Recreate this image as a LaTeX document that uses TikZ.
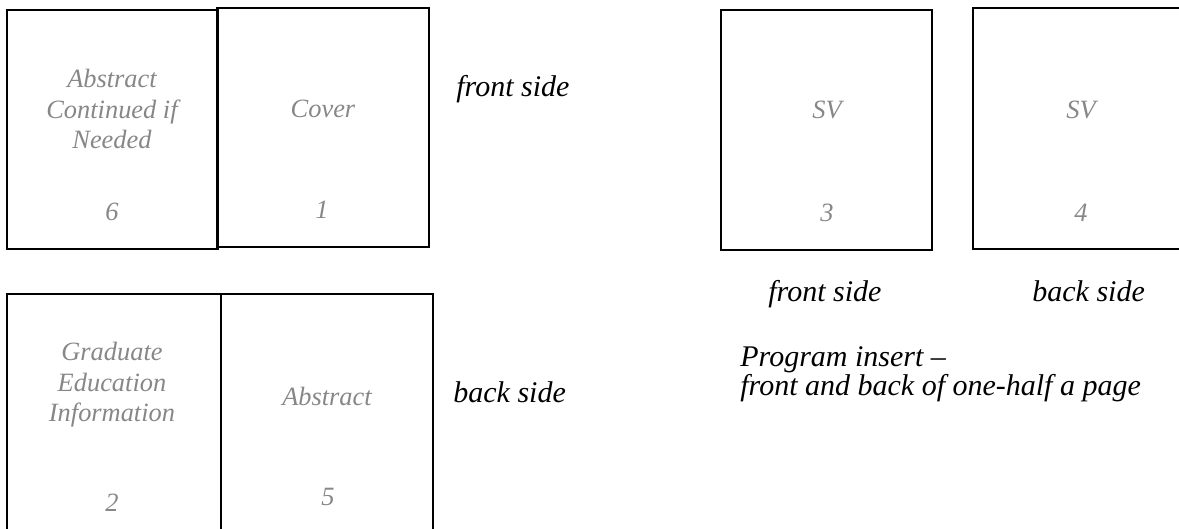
\documentclass[tikz,border=0pt]{standalone}
\usepackage{fontspec}
\setmainfont{Liberation Serif}
\usepackage{tikz}

\begin{document}
\begin{tikzpicture}[x=0.5pt,y=-0.5pt]
					\tikzstyle{every node}=[font=\fontsize{13.2}{15.2}\selectfont\itshape]
					\tikzstyle{page}=[draw,line width=1.1pt,rectangle,inner sep=0pt]
					\tikzstyle{title}=[text=black!47,align=center]
					\tikzstyle{side}=[text=black,anchor=base west,inner sep=0pt,font=\fontsize{15}{12.5}\selectfont\itshape]
					
					\useasboundingbox (0,0) rectangle (1179,529);
					\clip (0,0) rectangle (1179,529);
					
					% booklet, front
					\node[page,minimum width=105.5pt,minimum height=119.5pt] (p6) at (112.5,129.5) {};
					\node[page,minimum width=106pt,minimum height=119.5pt] (p1) at (323,127.5) {};
					% booklet, back
					\node[page,minimum width=107pt,minimum height=123pt] (p2) at (114,417) {};
					\node[page,minimum width=106pt,minimum height=123pt] (p5) at (327,417) {};
					% insert
					\node[page,minimum width=105.5pt,minimum height=120pt] (p3) at (826.5,130) {};
					\node[page,minimum width=108.5pt,minimum height=120.5pt] (p4) at (1081.5,128.5) {};
					
					\node[title] (t6) at (112,109) {Abstract\\Continued if\\Needed};
					\node[title] (n6) at (112,212) {6};
					\node[title] (t1) at (323,109) {Cover};
					\node[title] (n1) at (322,210) {1};
					\node[title] (t2) at (112,385) {Graduate\\Education\\Information};
					\node[title] (n2) at (112,503) {2};
					\node[title] (t5) at (327,396) {Abstract};
					\node[title] (n5) at (328,497) {5};
					\node[title] (t3) at (827,110) {SV};
					\node[title] (n3) at (827,213) {3};
					\node[title] (t4) at (1081,110) {SV};
					\node[title] (n4) at (1081,213) {4};
					
					\node[side] (f1) at (456,97) {front side};
					\node[side] (b1) at (453,403) {back side};
					\node[side] (f2) at (768,302) {front side};
					\node[side] (b2) at (1032,302) {back side};
					\node[side] (pi) at (740,367) {Program insert --};
					\node[side] (pf) at (740,396) {front and back of one-half a page};
					
					\end{tikzpicture}
\end{document}
